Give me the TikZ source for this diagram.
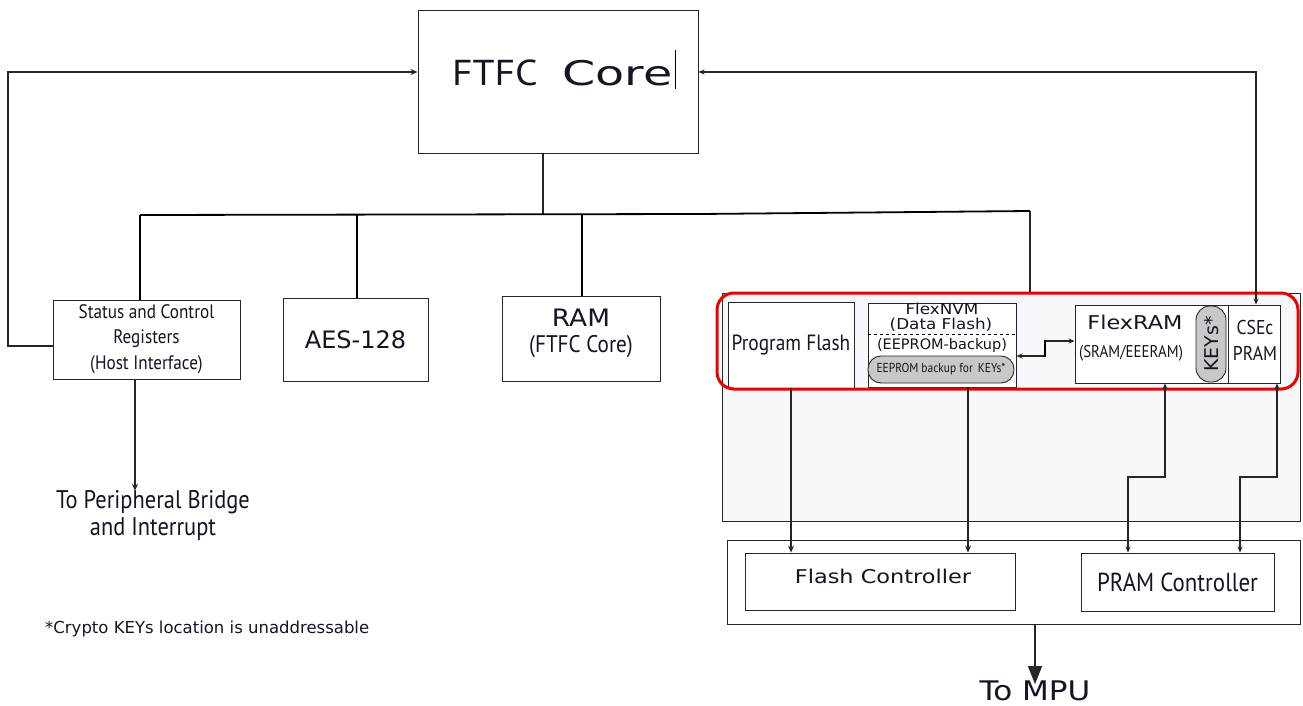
\documentclass[tikz,border=0pt]{standalone}
\usepackage{fontspec}
\usepackage{graphicx}
\setmainfont{DejaVu Sans}
\newfontfamily\cond[FakeStretch=0.88]{PT Sans}
\usetikzlibrary{arrows.meta}
\newcommand{\hstretch}[2]{\scalebox{#1}[1]{#2}}
\definecolor{lav}{RGB}{248,248,252}
\definecolor{redline}{RGB}{235,0,0}
\definecolor{pill}{RGB}{200,200,200}
\definecolor{txt}{RGB}{20,20,35}
\tikzset{
  box/.style={draw=black!85, line width=0.9pt, fill=white, inner sep=0pt, text=txt},
  lbl/.style={inner sep=0pt, text=txt, align=center},
  conn/.style={draw=black!85, line width=1.1pt},
  bus/.style={draw=black, line width=1.8pt},
  arr/.style={conn, -{Stealth[length=7pt,width=6pt]}},
  darr/.style={conn, {Stealth[length=6pt,width=5pt]}-{Stealth[length=6pt,width=5pt]}},
  bigarr/.style={conn, -{Triangle[length=18pt,width=14pt]}},
}
\begin{document}
\begin{tikzpicture}[x=1pt,y=-1pt]
\useasboundingbox (0,0) rectangle (1303,706);
% main boxes
\node[box, minimum width=280pt, minimum height=143pt] (core) at (558,81.5) {};
\node[lbl, anchor=west, font=\cond\fontsize{36}{40}\selectfont] (ftfc) at (452,73) {\hstretch{1.25}{FTFC}};
\node[lbl, anchor=east, font=\fontsize{34}{40}\selectfont] (coretxt) at (673,73) {\hstretch{1.4}{Core}};
\draw[line width=0.8pt] (675,50) -- (675,89);
\node[box, minimum width=187pt, minimum height=79pt] (status) at (146.5,339.5) {};
\node[lbl, font=\cond\fontsize{19.5}{25.5}\selectfont] at (146.5,339) {Status and Control\\Registers\\(Host Interface)};
\node[box, minimum width=145pt, minimum height=83pt, font=\fontsize{24}{25}\selectfont] (aes) at (355.5,339.5) {AES-128};
\node[box, minimum width=158pt, minimum height=85pt] (ram) at (581,338.5) {};
\node[lbl, font=\fontsize{24}{25}\selectfont] at (581,318) {\hstretch{1.1}{RAM}};
\node[lbl, font=\cond\fontsize{24}{25}\selectfont] at (581,347) {(FTFC Core)};
\node[lbl, font=\cond\fontsize{25.5}{27}\selectfont] (periph) at (153,516) {To Peripheral Bridge\\and Interrupt};
\node[lbl, anchor=west, font=\fontsize{16.5}{17}\selectfont] (foot) at (45,629) {*Crypto KEYs location is unaddressable};
% memory region
\node[draw=black!85, line width=0.9pt, fill=lav, minimum width=578pt, minimum height=228pt, inner sep=0pt] (mem) at (1011,407) {};
\node[box, minimum width=126pt, minimum height=86pt, font=\cond\fontsize{22}{25}\selectfont] (pflash) at (791,345) {Program Flash};
\node[box, minimum width=148pt, minimum height=84pt] (nvm) at (942,345) {};
\draw[dashed, line width=0.9pt] (nvm.west |- 0,334) -- (nvm.east |- 0,334);
\node[lbl, font=\fontsize{15}{15}\selectfont] at (942,309) {\hstretch{1.12}{FlexNVM}};
\node[lbl, font=\fontsize{15}{15}\selectfont] at (941,324.5) {\hstretch{1.12}{(Data Flash)}};
\node[lbl, font=\fontsize{14.5}{14}\selectfont] at (942,345) {(EEPROM-backup)};
\node[draw=black!85, line width=0.9pt, fill=pill, rounded corners=13pt, minimum width=146pt, minimum height=27pt, inner sep=0pt, text=txt, font=\cond\fontsize{13}{14}\selectfont] (nvmkeys) at (941,369.5) {EEPROM backup for\hspace{5pt}KEYs*};
\node[box, minimum width=153pt, minimum height=78pt] (flexram) at (1151.5,344) {};
\node[lbl, font=\fontsize{19}{20}\selectfont] at (1135,322) {\hstretch{1.18}{FlexRAM}};
\node[lbl, font=\cond\fontsize{17}{20}\selectfont] at (1131,353) {(SRAM/EEERAM)};
\node[draw=black!85, line width=0.9pt, fill=pill, rounded corners=14pt, minimum width=30pt, minimum height=76pt, inner sep=0pt] (keys) at (1211,344) {};
\node[lbl, rotate=90, font=\fontsize{19}{18}\selectfont] at (1212,344) {KEYs*};
\node[box, minimum width=52pt, minimum height=78pt] (csec) at (1254,344) {};
\node[lbl, font=\cond\fontsize{20}{26}\selectfont] at (1255,340) {CSEc\\PRAM};
\node[draw=redline, line width=3pt, rounded corners=17pt, minimum width=581pt, minimum height=96pt, inner sep=0pt] (red) at (1007.5,341) {};
% controllers
\node[draw=black!85, line width=0.9pt, fill=white, minimum width=573pt, minimum height=84pt, inner sep=0pt] (ctrl) at (1013.5,582) {};
\node[box, minimum width=270pt, minimum height=57pt] (fctrl) at (880,581.5) {};
\node[lbl, font=\fontsize{19}{20}\selectfont] at (883,576) {\hstretch{1.18}{Flash Controller}};
\node[box, minimum width=193pt, minimum height=58pt, font=\cond\fontsize{26}{26}\selectfont] (pctrl) at (1177.5,582) {PRAM Controller};
\node[lbl, font=\fontsize{27}{30}\selectfont, anchor=base] (mpu) at (1035,700) {\hstretch{1.15}{To MPU}};
% connectors
\draw[arr] (status.west |- 0,346) -- (8,346) -- (8,72) -- (core.west |- 0,72);
\draw[darr] (csec.north -| 1256,0) -- (1256,72) -- (core.east |- 0,72);
\draw[conn] (core.south -| 543,0) -- (543,214);
\draw[bus] (140,215) -- (700,214) -- (1030,211);
\draw[bus] (140,215) -- (status.north -| 140,0);
\draw[bus] (357,215) -- (aes.north -| 357,0);
\draw[bus] (582,214.5) -- (ram.north -| 582,0);
\draw[conn] (1030,211) -- (red.north -| 1030,0);
\draw[arr] (status.south -| 135,0) -- (periph.north -| 135,0);
\draw[arr] (pflash.south) -- (pflash.south |- fctrl.north);
\draw[arr] (nvm.south -| 968,0) -- (fctrl.north -| 968,0);
\draw[darr] (flexram.south -| 1165,0) -- (1165,477) -- (1128,477) -- (pctrl.north -| 1128,0);
\draw[darr] (csec.south -| 1277,0) -- (1277,477) -- (1240,477) -- (pctrl.north -| 1240,0);
\draw[darr] (nvm.east |- 0,356) -- (1045,356) -- (1045,341) -- (flexram.west |- 0,341);
\draw[line width=2.2pt] (1045,357) -- (1045,340);
\draw[bigarr] (ctrl.south -| 1035,0) -- ([yshift=-4pt]mpu.north);
\end{tikzpicture}
\end{document}
